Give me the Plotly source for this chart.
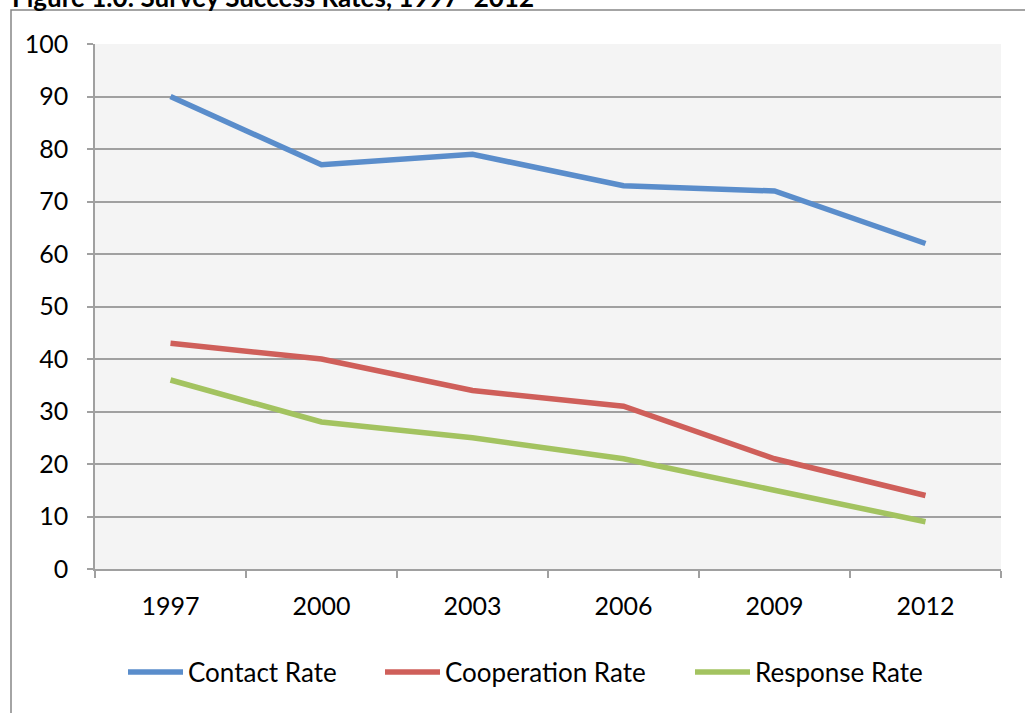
import plotly.graph_objects as go

years = ["1997", "2000", "2003", "2006", "2009", "2012"]
contact_rate = [90, 77, 79, 73, 72, 62]
cooperation_rate = [43, 40, 34, 31, 21, 14]
response_rate = [36, 28, 25, 21, 15, 9]

series = [
    ("Contact Rate", contact_rate, "#5a8dcb", "legend", 123),
    ("Cooperation Rate", cooperation_rate, "#cf5f5a", "legend2", 380),
    ("Response Rate", response_rate, "#a3c360", "legend3", 690),
]

FONT = "Lato, Calibri, 'Open Sans', sans-serif"
GRID = "#a0a0a0"

W, H = 1025, 713
L, R, T, B = 95, 24, 44, 144
pw, ph = W - L - R, H - T - B


def px_x(px):
    return (px - L) / pw


def px_y(py):
    return (H - B - py) / ph


fig = go.Figure()
legends = {}
for name, vals, color, leg, lx in series:
    fig.add_trace(go.Scatter(
        x=years, y=vals, name=name, mode="lines",
        line=dict(color=color, width=5.5), legend=leg,
    ))
    legends[leg] = dict(
        orientation="h", x=px_x(lx), xanchor="left",
        y=px_y(672), yanchor="middle",
        font=dict(family=FONT, size=26), itemwidth=55,
        bgcolor="rgba(0,0,0,0)",
    )

fig.update_layout(
    width=W, height=H,
    margin=dict(l=L, r=R, t=T, b=B, pad=0),
    paper_bgcolor="white",
    plot_bgcolor="#f4f4f4",
    font=dict(family=FONT, size=25, color="black"),
    showlegend=True,
    xaxis=dict(
        type="category", range=[-0.5, 5.5],
        showgrid=False, showline=True, linecolor=GRID, linewidth=1.5,
        ticks="outside", tickson="boundaries", ticklen=7,
        tickcolor=GRID, tickwidth=1.5,
        ticklabelstandoff=14, fixedrange=True,
    ),
    yaxis=dict(
        range=[0, 100], dtick=10, tick0=0,
        showgrid=True, gridcolor=GRID, gridwidth=1.5,
        showline=True, linecolor=GRID, linewidth=1.5,
        ticks="outside", ticklen=6, tickcolor=GRID, tickwidth=1.5,
        ticklabelstandoff=14, zeroline=False, fixedrange=True,
    ),
    shapes=[
        dict(type="rect", xref="paper", yref="paper",
             x0=px_x(11), x1=px_x(W + 40), y0=px_y(H + 40), y1=px_y(10),
             line=dict(color="#868686", width=1.5), layer="below"),
    ],
    annotations=[
        dict(text="<b>Figure 1.0: Survey Success Rates, 1997–2012</b>",
             xref="paper", yref="paper", x=px_x(10), y=px_y(-3),
             xanchor="left", yanchor="middle", showarrow=False,
             font=dict(family=FONT, size=26, color="black")),
    ],
    **legends,
)

fig.write_html("out.html")
